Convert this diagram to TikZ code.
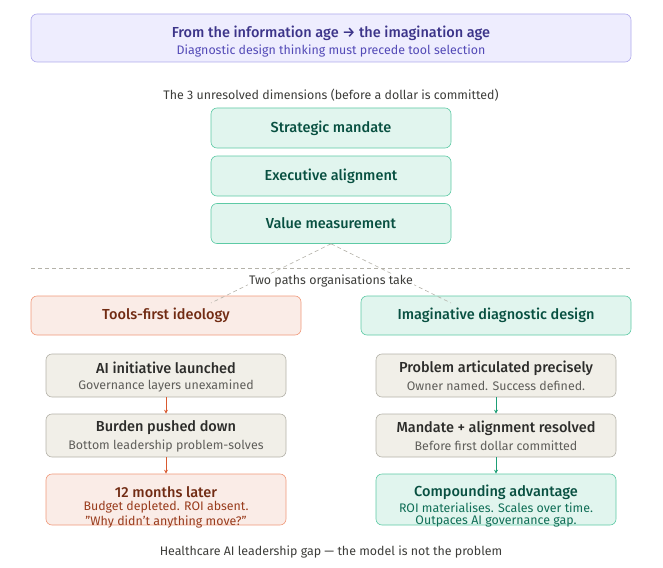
\documentclass[tikz,border=0pt]{standalone}
\usepackage{fontspec}
\setmainfont{Fira Sans}[BoldFont={Fira Sans Medium}]
\usetikzlibrary{arrows.meta}
\definecolor{lavfill}{HTML}{EEEDFE}
\definecolor{lavdraw}{HTML}{AFA9EC}
\definecolor{lavtext}{HTML}{3C3489}
\definecolor{lavsub}{HTML}{534AB7}
\definecolor{grfill}{HTML}{E1F5EE}
\definecolor{grdraw}{HTML}{5DCAA5}
\definecolor{grtext}{HTML}{085041}
\definecolor{grsub}{HTML}{0F6E56}
\definecolor{grarrow}{HTML}{1D9E75}
\definecolor{cofill}{HTML}{FAECE7}
\definecolor{codraw}{HTML}{F0997B}
\definecolor{cotext}{HTML}{712B13}
\definecolor{cosub}{HTML}{993C1D}
\definecolor{coarrow}{HTML}{D85A30}
\definecolor{gyfill}{HTML}{F1EFE8}
\definecolor{gydraw}{HTML}{B4B2A9}
\definecolor{gytext}{HTML}{2C2C2A}
\definecolor{gysub}{HTML}{5F5E5A}
\definecolor{plain}{HTML}{3D3D3A}
\newcommand{\bt}{\fontsize{14.5}{17}\bfseries}
\newcommand{\st}{\fontsize{12.4}{14}\selectfont}
\tikzset{
  base/.style={rounded corners=6pt, line width=0.6pt, align=center, inner sep=0pt},
  lav/.style={base, fill=lavfill, draw=lavdraw},
  grn/.style={base, fill=grfill, draw=grdraw, text=grtext},
  cor/.style={base, fill=cofill, draw=codraw, text=cotext},
  gry/.style={base, fill=gyfill, draw=gydraw, text=gytext},
  dimbox/.style={grn, minimum width=240pt, minimum height=40pt, font=\fontsize{14.5}{17}\bfseries},
  headbox/.style={minimum width=270pt, minimum height=39pt, font=\bt},
  stepbox/.style={minimum width=240pt, minimum height=43pt},
  tallbox/.style={minimum width=240pt, minimum height=51pt},
  ttl/.style={font=\bt, inner sep=0pt},
  sub/.style={font=\st, inner sep=0pt},
  lbl/.style={font=\st, text=plain},
  dashln/.style={draw=gydraw, line width=0.6pt, dash pattern=on 4pt off 3pt},
  arr/.style={line width=0.7pt, -{Stealth[length=4pt,width=4pt]}}
}
\begin{document}
\begin{tikzpicture}[x=1pt,y=-1pt]
\useasboundingbox (0,0) rectangle (663,567);
% header
\node[lav, minimum width=600pt, minimum height=48pt] (top) at (331,38) {};
\node[ttl, text=lavtext] (toptitle) at (331,33) {From the information age → the imagination age};
\node[sub, text=lavsub] (topsub) at (331,51) {Diagnostic design thinking must precede tool selection};
% dimensions
\node[lbl] (dimlabel) at (331,95) {The 3 unresolved dimensions (before a dollar is committed)};
\node[dimbox] (sm) at (331,128) {Strategic mandate};
\node[dimbox] (ea) at (331,176) {Executive alignment};
\node[dimbox] (vm) at (331,223.5) {Value measurement};
% separator
\coordinate (sepL) at (31,268);
\coordinate (sepR) at (631,268);
\draw[dashln] (sepL) -- (sepR);
% path headers
\node[cor, headbox] (tf) at (166,315.5) {Tools-first ideology};
\node[grn, headbox] (idd) at (496,315.5) {Imaginative diagnostic design};
\coordinate (lt) at (211,303);
\coordinate (rt) at (451,303);
\draw[dashln] (vm.south) -- (lt);
\draw[dashln] (vm.south) -- (rt);
\node[lbl, fill=white, inner sep=1pt] (paths) at (331,281) {Two paths organisations take};
% left column
\node[gry, stepbox] (l1) at (166,375.5) {};
\node[ttl, text=gytext] (l1t) at (166,368) {AI initiative launched};
\node[sub, text=gysub] (l1s) at (166,386) {Governance layers unexamined};
\node[gry, stepbox] (l2) at (166,435.5) {};
\node[ttl, text=gytext] (l2t) at (166,428) {Burden pushed down};
\node[sub, text=gysub] (l2s) at (166,446) {Bottom leadership problem-solves};
\node[cor, tallbox] (l3) at (166,499.5) {};
\node[ttl, text=cotext] (l3t) at (166,492) {12 months later};
\node[sub, text=cosub] (l3s) at (166,507.5) {Budget depleted. ROI absent.};
\node[sub, text=cosub] (l3u) at (166,521.5) {"Why didn't anything move?"};
% right column
\node[gry, stepbox] (r1) at (496,375.5) {};
\node[ttl, text=gytext] (r1t) at (496,368) {Problem articulated precisely};
\node[sub, text=gysub] (r1s) at (496,386) {Owner named. Success defined.};
\node[gry, stepbox] (r2) at (496,435.5) {};
\node[ttl, text=gytext] (r2t) at (496,428) {Mandate + alignment resolved};
\node[sub, text=gysub] (r2s) at (496,446) {Before first dollar committed};
\node[grn, tallbox] (r3) at (496,499.5) {};
\node[ttl, text=grtext] (r3t) at (496,492) {Compounding advantage};
\node[sub, text=grsub] (r3s) at (496,507.5) {ROI materialises. Scales over time.};
\node[sub, text=grsub] (r3u) at (496,521.5) {Outpaces AI governance gap.};
% arrows
\draw[arr, coarrow] (l1) -- (l2);
\draw[arr, coarrow] (l2) -- (l3);
\draw[arr, grarrow] (r1) -- (r2);
\draw[arr, grarrow] (r2) -- (r3);
% footer
\node[lbl] (foot) at (331,552) {Healthcare AI leadership gap — the model is not the problem};
\end{tikzpicture}
\end{document}
